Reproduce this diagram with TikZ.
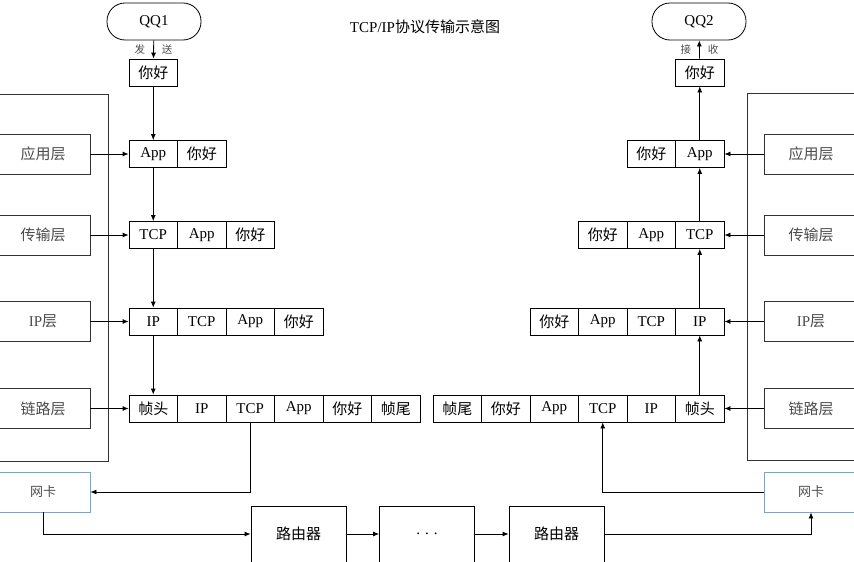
\documentclass[tikz,border=0pt]{standalone}
\usepackage{fontspec}
\setmainfont{Liberation Serif}
\newfontfamily\cjk{Noto Sans CJK SC}
\usetikzlibrary{arrows.meta}

% one packet: name, left x, centre y, fields
\newcommand\pktrow[4]{%
  \foreach \t [count=\i] in {#4}
    \node[cell] (#1\i) at ({#2+48.5*\i-24.25},#3) {\t};}

\begin{document}
\begin{tikzpicture}[x=1pt,y=-1pt,line width=.8pt,
    >={Latex[length=6pt,width=5pt]},
    cell/.style={draw,minimum width=48.5pt,minimum height=27pt,inner sep=0pt,
      font=\fontsize{15}{17}\selectfont},
    layer/.style={draw=black!80,fill=white,minimum width=94pt,minimum height=40pt,
      text=black!70,font=\cjk\fontsize{15}{17}\selectfont},
    nic/.style={draw={rgb,255:red,130;green,160;blue,200},minimum width=94pt,
      minimum height=40pt,text=black!70,font=\cjk\fontsize{13}{15}\selectfont},
    router/.style={draw,minimum width=95pt,minimum height=56pt,
      font=\cjk\fontsize{15}{17}\selectfont},
    qq/.style={draw,rounded corners=18pt,minimum width=94pt,minimum height=37pt,
      font=\fontsize{15}{17}\selectfont},
    small/.style={inner sep=1pt,text=black!70,font=\cjk\fontsize{10.5}{12}\selectfont}]
  \clip (0,0) rectangle (854,562);
  \node at (425,27) {\fontsize{15}{17}\selectfont TCP/IP{\cjk 协议传输示意图}};
  % host frames
  \draw[black!80] (-10,94) rectangle (108,461);
  \draw[black!80] (747,93) rectangle (870,460);
  % sender
  \node[qq] (qq1) at (154,21.5) {QQ1};
  \pktrow{sd}{129}{72.5}{{\cjk 你好}}
  \pktrow{sa}{129}{154}{App,{\cjk 你好}}
  \pktrow{st}{129}{235}{TCP,App,{\cjk 你好}}
  \pktrow{si}{129}{321.5}{IP,TCP,App,{\cjk 你好}}
  \pktrow{sl}{129}{408.5}{{\cjk 帧头},IP,TCP,App,{\cjk 你好},{\cjk 帧尾}}
  \node[layer] (appL) at (43,154) {应用层};
  \node[layer] (tcpL) at (43,235) {传输层};
  \node[layer] (ipL) at (43,321.5) {{\rmfamily IP}层};
  \node[layer] (linkL) at (43,408.5) {链路层};
  \node[nic] (nicL) at (43,492) {网卡};
  % receiver
  \node[qq] (qq2) at (699,21.5) {QQ2};
  \pktrow{rd}{675.5}{72.5}{{\cjk 你好}}
  \pktrow{ra}{627}{154}{{\cjk 你好},App}
  \pktrow{rt}{578.5}{235}{{\cjk 你好},App,TCP}
  \pktrow{ri}{530}{321.5}{{\cjk 你好},App,TCP,IP}
  \pktrow{rl}{433}{408.5}{{\cjk 帧尾},{\cjk 你好},App,TCP,IP,{\cjk 帧头}}
  \node[layer] (appR) at (811,154) {应用层};
  \node[layer] (tcpR) at (811,235) {传输层};
  \node[layer] (ipR) at (811,321.5) {{\rmfamily IP}层};
  \node[layer] (linkR) at (811,408.5) {链路层};
  \node[nic] (nicR) at (811,492) {网卡};
  % network
  \node[router] (router1) at (298.5,534) {路由器};
  \node[router,font=\fontsize{15}{17}\selectfont] (dots) at (427,534) {. . .};
  \node[router] (router2) at (556.5,534) {路由器};
  % going down
  \draw[->] (qq1) -- (sd1) node[midway,left=7pt,small] {发}
    node[midway,right=7pt,small] {送};
  \draw[->] (sd1) -- (sa1);
  \draw[->] (sa1) -- (st1);
  \draw[->] (st1) -- (si1);
  \draw[->] (si1) -- (sl1);
  \draw[->] (appL) -- (sa1);
  \draw[->] (tcpL) -- (st1);
  \draw[->] (ipL) -- (si1);
  \draw[->] (linkL) -- (sl1);
  \draw[->] (sl3) |- (nicL);
  \draw[->] (nicL) |- (router1);
  \draw[->] (router1) -- (dots);
  \draw[->] (dots) -- (router2);
  \draw[->] (router2) -| (nicR);
  % going up
  \draw[->] (nicR) -| (rl4);
  \draw[->] (linkR) -- (rl6);
  \draw[->] (ipR) -- (ri4);
  \draw[->] (tcpR) -- (rt3);
  \draw[->] (appR) -- (ra2);
  \draw[->] (rl6) -- (ri4);
  \draw[->] (ri4) -- (rt3);
  \draw[->] (rt3) -- (ra2);
  \draw[->] (ra2) -- (rd1);
  \draw[->] (rd1) -- (qq2) node[midway,left=7pt,small] {接}
    node[midway,right=7pt,small] {收};
\end{tikzpicture}
\end{document}
